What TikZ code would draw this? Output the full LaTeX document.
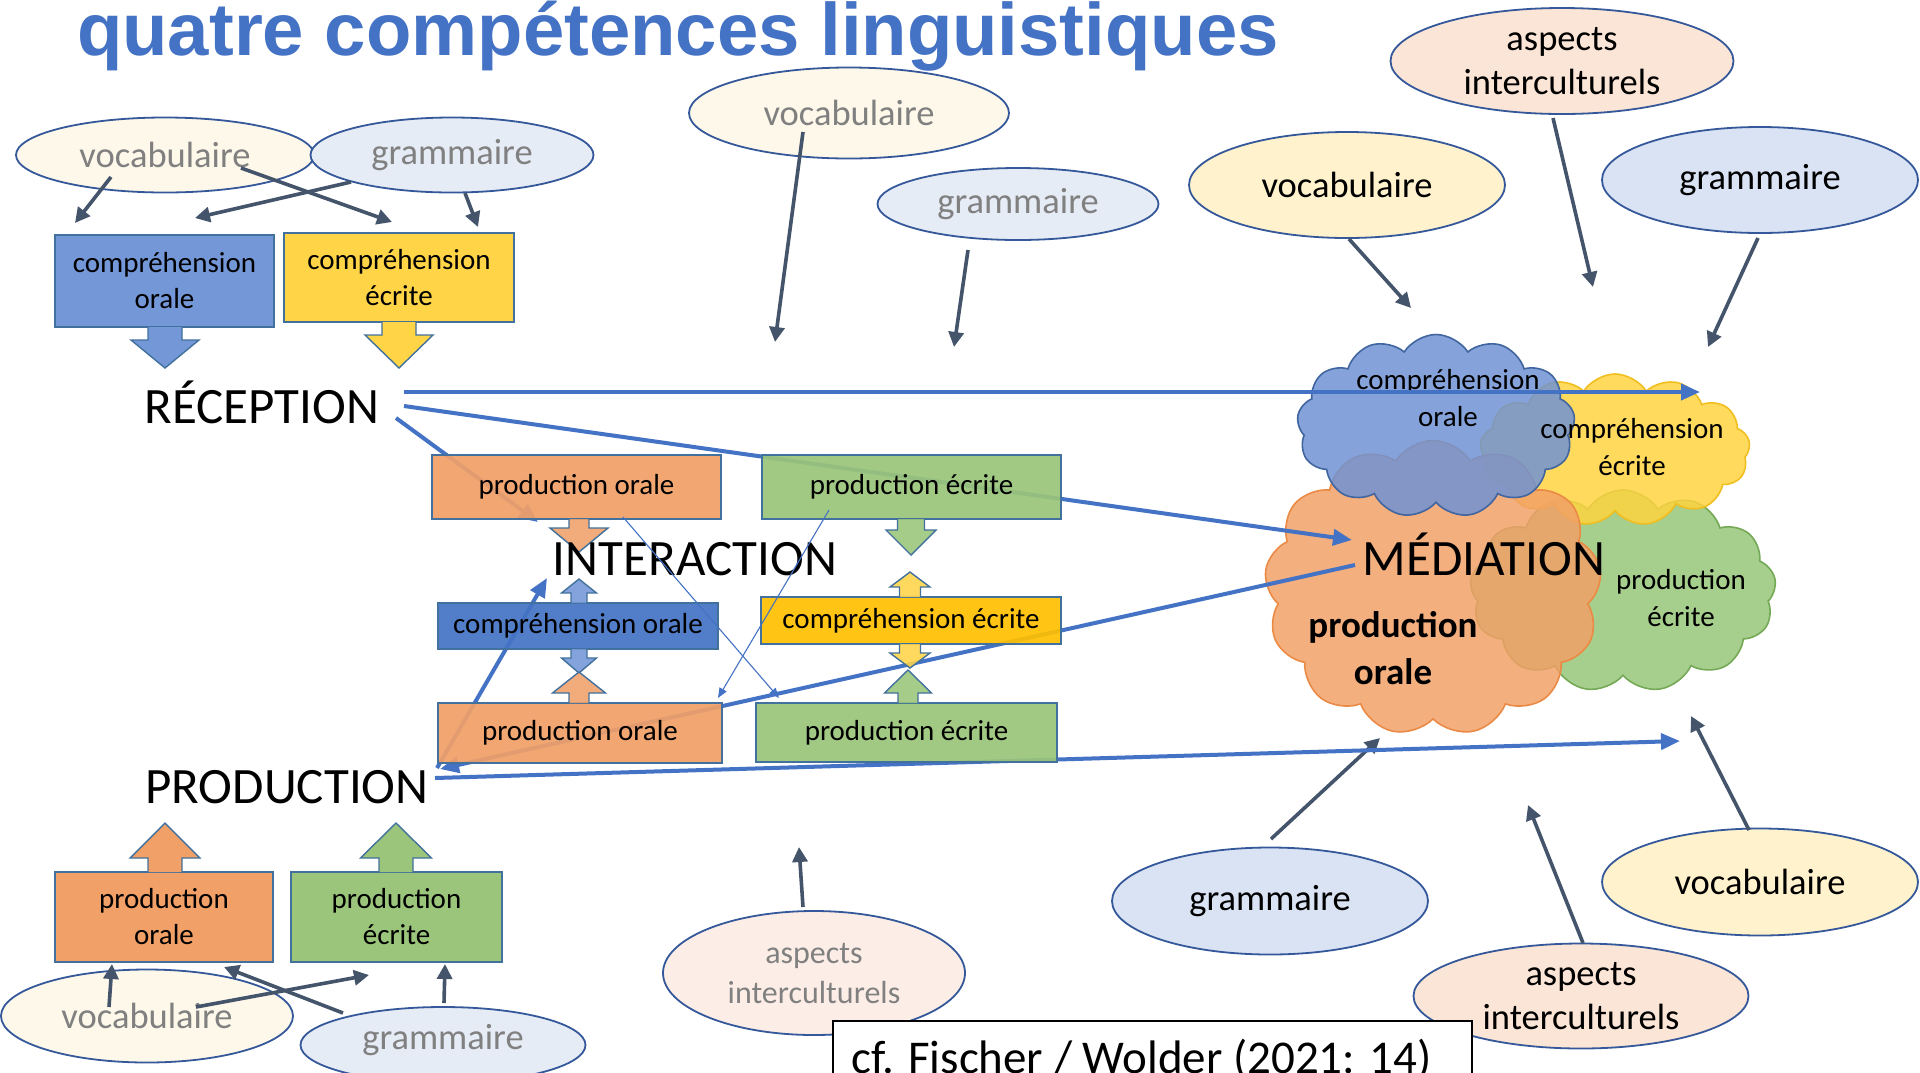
\documentclass[tikz,border=0pt]{standalone}
\usepackage{fontspec}
\setmainfont{Carlito}
\newfontfamily\titlefont{Liberation Sans}
\usetikzlibrary{shapes.geometric,shapes.symbols,arrows.meta}
\newcommand\myfs[2]{\fontsize{#1}{#2}\selectfont}
% #1 fill options, #2 cx, #3 y at box edge, #4 shaft half width, #5 head half width, #6 head base y, #7 tip y
\newcommand\blockarrow[7]{%
  \fill[#1] (#2-#4,#3) -- (#2-#4,#6) -- (#2-#5,#6) -- (#2,#7) -- (#2+#5,#6) -- (#2+#4,#6) -- (#2+#4,#3) -- cycle;
  \draw[draw=boxline, line width=1.4pt, line join=miter] (#2-#4,#3) -- (#2-#4,#6) -- (#2-#5,#6) -- (#2,#7) -- (#2+#5,#6) -- (#2+#4,#6) -- (#2+#4,#3);
}
\definecolor{titleblue}{HTML}{4472C4}
\definecolor{linkblue}{HTML}{4472C4}
\definecolor{darkarrow}{HTML}{44546A}
\definecolor{ellline}{HTML}{35589A}
\definecolor{fadevoc}{HTML}{FEF8EA}
\definecolor{fadegram}{HTML}{E6ECF5}
\definecolor{fadeasp}{HTML}{FCEEE6}
\definecolor{strongvoc}{HTML}{FFF2CC}
\definecolor{stronggram}{HTML}{DAE3F3}
\definecolor{strongasp}{HTML}{FBE5D6}
\definecolor{fadetext}{HTML}{808080}
\definecolor{colight}{HTML}{7497D8}
\definecolor{codark}{HTML}{4472C4}
\definecolor{celight}{HTML}{FFD447}
\definecolor{cedark}{HTML}{FFC000}
\definecolor{porange}{HTML}{F1A068}
\definecolor{pgreen}{HTML}{9AC57A}
\definecolor{boxline}{HTML}{41719C}
\definecolor{cblue}{HTML}{6E92D3}
\definecolor{cblueD}{HTML}{41659F}
\definecolor{cyel}{HTML}{FFD33F}
\definecolor{cyelD}{HTML}{F0BE1E}
\definecolor{cora}{HTML}{F2A067}
\definecolor{coraD}{HTML}{EB8A45}
\definecolor{cgre}{HTML}{95C577}
\definecolor{cgreD}{HTML}{74A955}
\begin{document}
\begin{tikzpicture}[x=1pt,y=-1pt,
  ell/.style={ellipse, draw=ellline, line width=1.8pt, inner sep=0pt},
  elltext/.style={align=center, inner sep=0pt, font=\myfs{36.5}{44}},
  fadetxt/.style={text=fadetext},
  bx/.style={rectangle, draw=boxline, line width=1.4pt, inner sep=0pt, align=center, font=\myfs{29}{36}},
  darr/.style={draw=darkarrow, line width=3.6pt, -{Triangle[length=15pt,width=15pt]}},
  barr/.style={draw=linkblue, line width=4pt, -{Triangle[length=19pt,width=16pt]}},
  thinarr/.style={draw=linkblue, line width=1.1pt, -{Triangle[length=10pt,width=8pt]}},
  biglabel/.style={font=\myfs{51}{60}, inner sep=0pt, anchor=base},
  cld/.style={cloud, cloud puffs=13, cloud puff arc=115, cloud ignores aspect, line width=1.6pt, inner sep=0pt, fill opacity=0.84},
  cloudtxt/.style={align=center, font=\myfs{29}{37}, inner sep=0pt},
  ibox/.style={bx, fill opacity=0.92, text opacity=1},
]
\useasboundingbox (0,0) rectangle (1920,1072);
\fill[white] (0,0) rectangle (1920,1072);

% title
\node[anchor=base west, inner sep=0pt, text=titleblue, font=\titlefont\bfseries\myfs{74.3}{90}] (title) at (77,55) {quatre compétences linguistiques};

% ellipses
\node[ell, fill=fadevoc, minimum width=298, minimum height=75] (tlv) at (165,155) {};
\node[ell, fill=fadegram, minimum width=283, minimum height=75] (tlg) at (452,155) {};
\node[elltext, fadetxt] (tlvT) at (tlv) {vocabulaire};
\node[elltext, fadetxt] (tlgT) at (tlg) {grammaire};

\node[ell, fill=fadevoc, minimum width=292, minimum height=93] (blv) at (147,1016) {};
\node[ell, fill=fadegram, minimum width=285, minimum height=76] (blg) at (443,1045) {};
\node[elltext, fadetxt] (blvT) at (blv) {vocabulaire};
\node[elltext, fadetxt] (blgT) at (443,1040) {grammaire};

\node[ell, fill=fadevoc, minimum width=320, minimum height=91] (mtv) at (849,113) {};
\node[ell, fill=fadegram, minimum width=281, minimum height=72] (mtg) at (1018,204) {};
\node[elltext, fadetxt] (mtvT) at (mtv) {vocabulaire};
\node[elltext, fadetxt] (mtgT) at (mtg) {grammaire};

\node[ell, fill=fadeasp, minimum width=302, minimum height=124] (bma) at (814,973) {};
\node[elltext, fadetxt, font=\myfs{32}{40}] (bmaT) at (bma) {aspects\\interculturels};

\node[ell, fill=strongvoc, minimum width=316, minimum height=106] (rtv) at (1347,185) {};
\node[ell, fill=strongasp, minimum width=343, minimum height=106] (rta) at (1562,61) {};
\node[ell, fill=stronggram, minimum width=316, minimum height=106] (rtg) at (1760,180) {};
\node[elltext] (rtvT) at (rtv) {vocabulaire};
\node[elltext] (rtaT) at (rta) {aspects\\interculturels};
\node[elltext] (rtgT) at (rtg) {grammaire};

\node[ell, fill=stronggram, minimum width=316, minimum height=107] (brg) at (1270,901) {};
\node[ell, fill=strongvoc, minimum width=316, minimum height=107] (brv) at (1760,882) {};
\node[ell, fill=strongasp, minimum width=335, minimum height=105] (bra) at (1581,996) {};
\node[elltext] (brgT) at (brg) {grammaire};
\node[elltext] (brvT) at (brv) {vocabulaire};
\node[elltext] (braT) at (bra) {aspects\\interculturels};

% dark arrows
\foreach \n/\sx/\sy/\ex/\ey in {1/111/177/75/223, 2/351/182/195/218, 3/241/168/392/222, 4/465/193/478/227,
  5/109/1007/112/964, 6/444/1003/445/964, 7/196/1007/369/975, 8/343/1013/224/967,
  9/803/132/775/342, 10/968/250/954/347, 11/1349/239/1411/308, 12/1553/118/1593/287, 13/1758/238/1708/347,
  14/803/907/799/847, 15/1271/839/1380/738, 16/1749/830/1691/716, 17/1583/943/1528/805}{
  \coordinate (a\n s) at (\sx,\sy);
  \coordinate (a\n e) at (\ex,\ey);
  \draw[darr] (a\n s) -- (a\n e);
}

% reception boxes
\node[bx, fill=colight, minimum width=219, minimum height=92] (rco) at (164.5,281) {compréhension\\orale};
\node[bx, fill=celight, minimum width=230, minimum height=89] (rce) at (399,277.5) {compréhension\\écrite};
\blockarrow{fill=colight}{165}{327}{17}{34}{340}{368}
\blockarrow{fill=celight}{399}{322}{17}{34}{335}{368}
\node[biglabel] (rec) at (262,423) {RÉCEPTION};

% production boxes
\node[bx, fill=porange, minimum width=218, minimum height=90] (bpo) at (164,917) {production\\orale};
\node[bx, fill=pgreen, minimum width=211, minimum height=90] (bpe) at (396.5,917) {production\\écrite};
\blockarrow{fill=porange}{165}{872}{17}{35}{858}{823}
\blockarrow{fill=pgreen}{396}{872}{17}{35.5}{858}{823}
\node[biglabel] (prod) at (287,803) {PRODUCTION};

% clouds
\node[cld, fill=cgre, draw=cgreD, minimum width=306, minimum height=202] (clg) at (1623,591) {};
\node[cld, fill=cyel, draw=cyelD, minimum width=270, minimum height=152] (cly) at (1615,450) {};
\node[cld, fill=cora, draw=coraD, minimum width=337, minimum height=295] (clo) at (1433,588) {};
\node[cld, fill=cblue, draw=cblueD, minimum width=278, minimum height=183] (clb) at (1436,426) {};
\node[cloudtxt] (clbT) at (1448,398) {compréhension\\orale};
\node[cloudtxt] (clyT) at (1632,447) {compréhension\\écrite};
\node[cloudtxt] (clgT) at (1681,598) {production\\écrite};
\node[cloudtxt, font=\bfseries\myfs{37}{47}] (cloT) at (1393,648) {production\\orale};
\node[biglabel] (med) at (1484,575) {MÉDIATION};

% blue connectors
\coordinate (r1s) at (404,392); \coordinate (r1e) at (1700,392);
\coordinate (r2s) at (404,406); \coordinate (r2e) at (1352,540);
\coordinate (r3s) at (396,418); \coordinate (r3e) at (538,522);
\coordinate (m1s) at (1355,565); \coordinate (m1e) at (440,769);
\coordinate (u1s) at (437,768); \coordinate (u1e) at (547,578);
\coordinate (p1s) at (435,778); \coordinate (p1e) at (1680,741);
\draw[barr] (r1s) -- (r1e);
\draw[barr] (r2s) -- (r2e);
\draw[barr] (r3s) -- (r3e);
\draw[barr] (m1s) -- (m1e);
\draw[barr] (u1s) -- (u1e);
\draw[barr] (p1s) -- (p1e);

% interaction boxes
\node[ibox, fill=porange, minimum width=289, minimum height=64] (ipo1) at (576.5,487) {production orale};
\node[ibox, fill=pgreen, minimum width=299, minimum height=64] (ipe1) at (911.5,487) {production écrite};
\node[ibox, fill=codark, minimum width=280, minimum height=46] (ico) at (578,626) {compréhension orale};
\node[ibox, fill=cedark, minimum width=300, minimum height=47] (ice) at (911,620.5) {compréhension écrite};
\node[ibox, fill=porange, minimum width=284, minimum height=60] (ipo2) at (580,733) {production orale};
\node[ibox, fill=pgreen, minimum width=301, minimum height=59] (ipe2) at (906.5,732.5) {production écrite};
\blockarrow{fill=porange, fill opacity=0.88}{579}{519}{10}{29}{528}{552}
\blockarrow{fill=pgreen, fill opacity=0.88}{911}{519}{13.5}{25}{530}{555}
\blockarrow{fill=colight, fill opacity=0.88}{579}{603}{8}{17.5}{593}{579}
\blockarrow{fill=colight, fill opacity=0.88}{579}{649}{8}{17.5}{658}{673}
\blockarrow{fill=porange, fill opacity=0.88}{579}{703}{10}{26.5}{693}{672}
\blockarrow{fill=celight, fill opacity=0.88}{910}{597}{10.5}{20}{587}{572}
\blockarrow{fill=celight, fill opacity=0.88}{910}{644}{10.5}{20}{653}{668}
\blockarrow{fill=pgreen, fill opacity=0.88}{908}{703}{10}{23.5}{693}{670}
\node[biglabel] (inter) at (695,575) {INTERACTION};

% thin cross arrows
\coordinate (t1s) at (623,517); \coordinate (t1e) at (779,698);
\coordinate (t2s) at (829,510); \coordinate (t2e) at (718,698);
\draw[thinarr] (t1s) -- (t1e);
\draw[thinarr] (t2s) -- (t2e);

% citation
\node[draw=black, line width=2pt, fill=white, minimum width=639, minimum height=100, anchor=north west, inner sep=0pt] (citebox) at (832,1020) {};
\node[anchor=base west, font=\myfs{47}{56}, inner sep=0pt] (cite) at (851,1073) {cf. Fischer / Wolder (2021: 14)};
\end{tikzpicture}
\end{document}
